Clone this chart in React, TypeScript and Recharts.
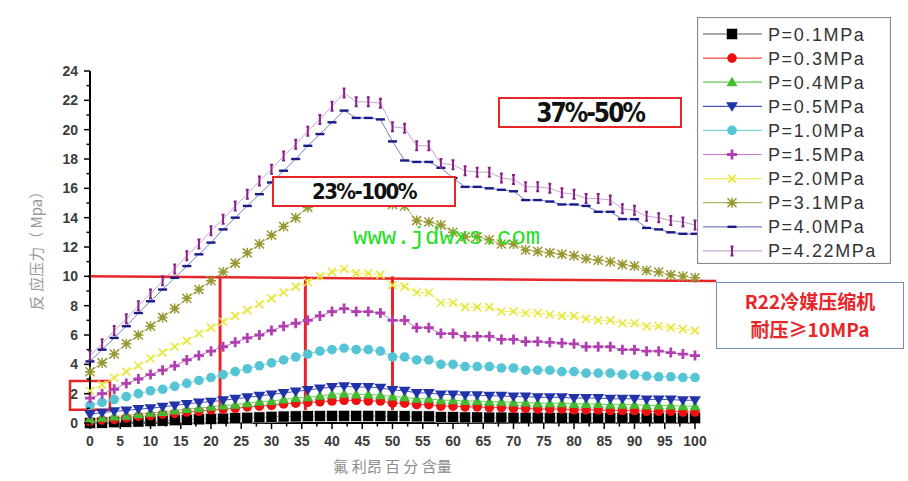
import React from "react";
import { LineChart, Line, XAxis, YAxis, ReferenceLine, ReferenceArea, Legend, Label } from "recharts";

// freon content (%), one sample every 2%
const X_VALUES = [
  0, 2, 4, 6, 8, 10, 12, 14, 16, 18, 20, 22, 24, 26, 28, 30, 32, 34, 36, 38, 40, 42,
  44, 46, 48, 50, 52, 54, 56, 58, 60, 62, 64, 66, 68, 70, 72, 74, 76, 78, 80, 82, 84, 86,
  88, 90, 92, 94, 96, 98, 100,
];

const P_01 = [
  0.0, 0.02, 0.05, 0.08, 0.1, 0.13, 0.16, 0.19, 0.22, 0.25, 0.28, 0.3, 0.33, 0.36, 0.38, 0.42, 0.44, 0.45, 0.46, 0.47, 0.48, 0.48,
  0.48, 0.48, 0.47, 0.46, 0.46, 0.45, 0.45, 0.4, 0.4, 0.38, 0.38, 0.37, 0.37, 0.36, 0.36, 0.36, 0.35, 0.35, 0.35, 0.34, 0.34, 0.34,
  0.34, 0.33, 0.33, 0.33, 0.33, 0.33, 0.33,
];
const P_03 = [
  0.1, 0.2, 0.25, 0.35, 0.45, 0.5, 0.6, 0.65, 0.75, 0.8, 0.9, 0.95, 1.0, 1.1, 1.15, 1.2, 1.3, 1.35, 1.4, 1.45, 1.5, 1.55,
  1.55, 1.5, 1.5, 1.35, 1.35, 1.25, 1.25, 1.15, 1.15, 1.1, 1.1, 1.05, 1.05, 1.0, 1.0, 0.95, 0.95, 0.95, 0.9, 0.9, 0.9, 0.85,
  0.85, 0.85, 0.8, 0.8, 0.8, 0.75, 0.75,
];
const P_04 = [
  0.25, 0.35, 0.45, 0.5, 0.6, 0.7, 0.75, 0.85, 0.95, 1.0, 1.1, 1.2, 1.25, 1.35, 1.45, 1.5, 1.6, 1.7, 1.75, 1.85, 1.95, 2.0,
  1.95, 1.95, 1.9, 1.8, 1.75, 1.65, 1.65, 1.55, 1.55, 1.5, 1.5, 1.45, 1.45, 1.4, 1.4, 1.35, 1.35, 1.35, 1.3, 1.3, 1.3, 1.25,
  1.25, 1.25, 1.2, 1.2, 1.2, 1.15, 1.15,
];
const P_05 = [
  0.6, 0.7, 0.8, 0.85, 0.95, 1.0, 1.1, 1.2, 1.3, 1.4, 1.45, 1.55, 1.65, 1.75, 1.85, 1.95, 2.05, 2.15, 2.25, 2.35, 2.45, 2.5,
  2.45, 2.45, 2.4, 2.25, 2.2, 2.05, 2.05, 1.95, 1.95, 1.9, 1.9, 1.85, 1.85, 1.8, 1.8, 1.75, 1.75, 1.75, 1.7, 1.7, 1.7, 1.65,
  1.65, 1.65, 1.6, 1.6, 1.6, 1.55, 1.55,
];
const P_10 = [
  1.2, 1.4, 1.6, 1.8, 2.0, 2.2, 2.3, 2.5, 2.7, 2.9, 3.1, 3.3, 3.5, 3.7, 3.9, 4.1, 4.3, 4.5, 4.7, 4.9, 5.0, 5.1,
  5.0, 5.0, 4.9, 4.5, 4.5, 4.3, 4.3, 4.0, 4.0, 3.85, 3.85, 3.85, 3.75, 3.75, 3.6, 3.6, 3.6, 3.5, 3.5, 3.4, 3.4, 3.4,
  3.3, 3.3, 3.2, 3.15, 3.15, 3.1, 3.1,
];
const P_15 = [
  1.7, 2.0, 2.3, 2.7, 3.0, 3.3, 3.6, 3.9, 4.3, 4.6, 4.9, 5.2, 5.5, 5.8, 6.0, 6.3, 6.6, 6.8, 7.0, 7.3, 7.6, 7.8,
  7.6, 7.6, 7.5, 7.0, 7.0, 6.5, 6.5, 6.1, 6.1, 5.9, 5.9, 5.9, 5.7, 5.7, 5.55, 5.55, 5.5, 5.45, 5.4, 5.2, 5.2, 5.2,
  5.0, 5.0, 4.9, 4.9, 4.8, 4.7, 4.6,
];
const P_20 = [
  2.2, 2.6, 3.1, 3.5, 3.9, 4.4, 4.8, 5.2, 5.6, 6.1, 6.5, 6.9, 7.3, 7.7, 8.1, 8.5, 8.9, 9.3, 9.6, 10.0, 10.3, 10.5,
  10.2, 10.2, 10.1, 9.4, 9.3, 8.9, 8.9, 8.2, 8.2, 7.9, 7.9, 7.9, 7.6, 7.6, 7.5, 7.5, 7.4, 7.3, 7.3, 7.1, 7.0, 7.0,
  6.8, 6.8, 6.6, 6.6, 6.5, 6.4, 6.3,
];
const P_31 = [
  3.5, 4.1, 4.7, 5.4, 6.0, 6.6, 7.2, 7.8, 8.5, 9.1, 9.7, 10.3, 10.9, 11.6, 12.2, 12.8, 13.4, 14.0, 14.7, 15.3, 15.9, 16.3,
  16.2, 16.1, 15.9, 14.9, 14.8, 13.8, 13.7, 13.5, 13.0, 12.7, 12.7, 12.5, 12.2, 12.2, 11.8, 11.7, 11.6, 11.5, 11.4, 11.2, 11.1, 11.0,
  10.8, 10.7, 10.4, 10.3, 10.1, 10.0, 9.9,
];
const P_40 = [
  4.2, 5.0, 5.8, 6.6, 7.5, 8.3, 9.1, 9.9, 10.7, 11.5, 12.3, 13.2, 14.0, 14.8, 15.6, 16.4, 17.2, 18.0, 18.9, 19.7, 20.5, 21.3,
  20.8, 20.8, 20.7, 19.2, 17.9, 17.8, 17.8, 17.4, 16.7, 16.1, 16.1, 16.0, 15.9, 15.8, 15.2, 15.2, 15.1, 14.9, 14.9, 14.8, 14.4, 14.4,
  13.9, 13.9, 13.3, 13.2, 13.0, 12.9, 12.9,
];
const P_422 = [
  4.6, 5.4, 6.3, 7.1, 8.0, 8.8, 9.7, 10.5, 11.4, 12.2, 13.1, 13.9, 14.8, 15.6, 16.5, 17.3, 18.2, 19.0, 19.9, 20.7, 21.6, 22.5,
  21.9, 21.9, 21.8, 20.2, 20.1, 18.9, 18.9, 17.7, 17.6, 17.2, 17.1, 17.1, 16.7, 16.6, 16.1, 16.1, 16.0, 15.7, 15.6, 15.3, 15.3, 15.2,
  14.6, 14.5, 14.1, 14.0, 13.8, 13.7, 13.5,
];

const Y_TICKS = Array.from({ length: 25 }, (_, i) => i);
const X_TICKS = Array.from({ length: 41 }, (_, i) => i * 2.5);

type Shape = "square" | "circle" | "triUp" | "triDown" | "plus" | "cross" | "star" | "dash" | "bar";

const SERIES: { key: string; name: string; values: number[]; line: string; mark: string; shape: Shape }[] = [
  { key: "p01", name: "P=0.1MPa", values: P_01, line: "#555555", mark: "#000000", shape: "square" },
  { key: "p03", name: "P=0.3MPa", values: P_03, line: "#ff4444", mark: "#ee1111", shape: "circle" },
  { key: "p04", name: "P=0.4MPa", values: P_04, line: "#66cc55", mark: "#44bb33", shape: "triUp" },
  { key: "p05", name: "P=0.5MPa", values: P_05, line: "#4455bb", mark: "#2233aa", shape: "triDown" },
  { key: "p10", name: "P=1.0MPa", values: P_10, line: "#7fd3de", mark: "#55c5d5", shape: "circle" },
  { key: "p15", name: "P=1.5MPa", values: P_15, line: "#cc77cc", mark: "#b040b0", shape: "plus" },
  { key: "p20", name: "P=2.0MPa", values: P_20, line: "#eeee66", mark: "#e6e63c", shape: "cross" },
  { key: "p31", name: "P=3.1MPa", values: P_31, line: "#b4b46a", mark: "#999933", shape: "star" },
  { key: "p40", name: "P=4.0MPa", values: P_40, line: "#7482c4", mark: "#1a1a88", shape: "dash" },
  { key: "p422", name: "P=4.22MPa", values: P_422, line: "#c9a2d3", mark: "#882288", shape: "bar" },
];

const rows = X_VALUES.map((x, i) => {
  const row: Record<string, number> = { x };
  SERIES.forEach((s) => (row[s.key] = s.values[i]));
  return row;
});

const RED = "#e8262a";
const TICK_FONT = "'Liberation Sans', Arial, sans-serif";

function Marker({ cx, cy, shape, color }: { cx?: number; cy?: number; shape: Shape; color: string }) {
  if (cx == null || cy == null) return null;
  switch (shape) {
    case "square":
      return <rect x={cx - 5.5} y={cy - 5.5} width={11} height={11} fill={color} stroke="#ffffff" strokeWidth={0.5} />;
    case "circle":
      return <circle cx={cx} cy={cy} r={4.8} fill={color} />;
    case "triUp":
      return <polygon points={`${cx},${cy - 5.5} ${cx + 5.5},${cy + 4} ${cx - 5.5},${cy + 4}`} fill={color} />;
    case "triDown":
      return <polygon points={`${cx - 6},${cy - 4} ${cx + 6},${cy - 4} ${cx},${cy + 5.5}`} fill={color} />;
    case "plus":
      return (
        <path d={`M${cx - 5},${cy}H${cx + 5}M${cx},${cy - 5}V${cy + 5}`} stroke={color} strokeWidth={2.8} />
      );
    case "cross":
      return (
        <path
          d={`M${cx - 4},${cy - 4}L${cx + 4},${cy + 4}M${cx + 4},${cy - 4}L${cx - 4},${cy + 4}`}
          stroke={color}
          strokeWidth={1.6}
        />
      );
    case "star":
      return (
        <g>
          <path
            d={`M${cx - 4.5},${cy - 4.5}L${cx + 4.5},${cy + 4.5}M${cx + 4.5},${cy - 4.5}L${cx - 4.5},${cy + 4.5}M${cx - 5},${cy}H${cx + 5}M${cx},${cy - 5}V${cy + 5}`}
            stroke={color}
            strokeWidth={1.5}
          />
          <circle cx={cx} cy={cy} r={2.5} fill={color} />
        </g>
      );
    case "dash":
      return <rect x={cx - 4.5} y={cy - 1.2} width={9} height={2.4} fill={color} />;
    case "bar":
      return (
        <path
          d={`M${cx},${cy - 4.5}V${cy + 4.5}M${cx - 1.5},${cy - 4.5}H${cx + 1.5}M${cx - 1.5},${cy + 4.5}H${cx + 1.5}`}
          stroke={color}
          strokeWidth={2}
        />
      );
  }
  return null;
}

function YTick(props: any) {
  const { x, y, payload } = props;
  const v = payload.value as number;
  const major = v % 2 === 0;
  return (
    <g>
      <line x1={x - (major ? 6 : 3.5)} x2={x} y1={y} y2={y} stroke="#000" strokeWidth={1.5} />
      {major && (
        <text
          x={x - 12}
          y={y + 5}
          textAnchor="end"
          fontFamily={TICK_FONT}
          fontSize={14}
          fontWeight="bold"
          fill="#3c3c3c"
        >
          {v}
        </text>
      )}
    </g>
  );
}

function XTick(props: any) {
  const { x, y, payload } = props;
  const v = payload.value as number;
  const major = v % 5 === 0;
  return (
    <g>
      <line x1={x} x2={x} y1={y} y2={y + (major ? 6 : 3.5)} stroke="#000" strokeWidth={1.5} />
      {major && (
        <text
          x={x}
          y={y + 23}
          textAnchor="middle"
          fontFamily={TICK_FONT}
          fontSize={14}
          fontWeight="bold"
          fill="#3c3c3c"
        >
          {v}
        </text>
      )}
    </g>
  );
}

function LegendBox() {
  return (
    <svg width={194} height={247} style={{ display: "block" }}>
      <rect x={0.5} y={0.5} width={193} height={246} fill="#ffffff" stroke="#8a8a8a" strokeWidth={1.2} />
      {SERIES.map((s, i) => {
        const cy = 17 + i * 24.1;
        return (
          <g key={s.key}>
            <line x1={6} x2={65} y1={cy} y2={cy} stroke={s.line} strokeWidth={1.2} />
            <Marker cx={35} cy={cy} shape={s.shape} color={s.mark} />
            <text
              x={71}
              y={cy + 6.5}
              fontFamily={TICK_FONT}
              fontSize={18}
              letterSpacing={1.6}
              fill="#333333"
            >
              {s.name}
            </text>
          </g>
        );
      })}
    </svg>
  );
}

const boxStyle: React.CSSProperties = {
  position: "absolute",
  boxSizing: "border-box",
  border: `2.5px solid ${RED}`,
  background: "#ffffff",
  display: "flex",
  alignItems: "center",
  justifyContent: "center",
  fontFamily: "'DejaVu Sans Condensed', 'DejaVu Sans', sans-serif",
  fontWeight: "bold",
  color: "#111111",
};

export default function App() {
  return (
    <div style={{ position: "relative", width: 908, height: 481, background: "#ffffff", overflow: "hidden" }}>
      <style>{"body{margin:0}"}</style>
      <LineChart width={908} height={481} data={rows} margin={{ top: 71, right: 213, bottom: 0, left: 0 }}>
        <XAxis
          dataKey="x"
          type="number"
          domain={[0, 100]}
          ticks={X_TICKS}
          interval={0}
          height={58}
          tickSize={0}
          tickMargin={0}
          tickLine={false}
          axisLine={{ stroke: "#000", strokeWidth: 1.8 }}
          tick={<XTick />}
        >
          <Label
            content={({ viewBox }: any) => (
              <text
                x={viewBox.x + viewBox.width / 2}
                y={viewBox.y + 49}
                textAnchor="middle"
                fontFamily="'Noto Sans CJK SC', sans-serif"
                fontSize={15}
                fill="#8c8c8c"
              >
                氟 利昂 百 分 含量
              </text>
            )}
          />
        </XAxis>
        <YAxis
          type="number"
          domain={[0, 24]}
          ticks={Y_TICKS}
          interval={0}
          width={90}
          tickSize={0}
          tickMargin={0}
          tickLine={false}
          axisLine={{ stroke: "#000", strokeWidth: 2 }}
          tick={<YTick />}
        >
          <Label
            content={({ viewBox }: any) => {
              const cx = viewBox.x + 35;
              const cy = viewBox.y + viewBox.height / 2;
              return (
                <text
                  x={cx}
                  y={cy}
                  transform={`rotate(-90 ${cx} ${cy})`}
                  textAnchor="middle"
                  dominantBaseline="central"
                  fontFamily="'Noto Sans CJK SC', sans-serif"
                  fontSize={15}
                  fill="#9a9a9a"
                >
                  反 应压力（ Mpa）
                </text>
              );
            }}
          />
        </YAxis>
        <Legend
          layout="vertical"
          align="center"
          verticalAlign="middle"
          wrapperStyle={{ position: "absolute", left: 697, top: 17, width: 194, height: 247 }}
          content={() => <LegendBox />}
        />
        {SERIES.map((s) => (
          <Line
            key={s.key}
            dataKey={s.key}
            name={s.name}
            type="linear"
            stroke={s.line}
            strokeWidth={1}
            isAnimationActive={false}
            activeDot={false}
            dot={(p: any) => <Marker key={`${s.key}-${p.index}`} cx={p.cx} cy={p.cy} shape={s.shape} color={s.mark} />}
          />
        ))}
        <ReferenceLine
          segment={[
            { x: -0.3, y: 10 },
            { x: 103.5, y: 9.68 },
          ]}
          stroke={RED}
          strokeWidth={2.5}
          ifOverflow="visible"
        />
        {[21.5, 35.6, 50].map((x) => (
          <ReferenceLine
            key={x}
            segment={[
              { x, y: 10 },
              { x, y: 0.85 },
            ]}
            stroke={RED}
            strokeWidth={3}
            ifOverflow="visible"
          />
        ))}
        <ReferenceArea
          x1={-3.3}
          x2={3.3}
          y1={0.9}
          y2={2.87}
          fill="none"
          stroke={RED}
          strokeWidth={2.5}
          ifOverflow="visible"
        />
      </LineChart>

      <div
        style={{
          position: "absolute",
          left: 353,
          top: 224,
          fontFamily: "'Liberation Mono', monospace",
          fontSize: 24,
          lineHeight: "28px",
          color: "#1ee01e",
          whiteSpace: "nowrap",
        }}
      >
        www.jdwxs.com
      </div>
      <div style={{ ...boxStyle, left: 272, top: 176, width: 184, height: 31, fontSize: 22, letterSpacing: -1.6 }}>
        23%-100%
      </div>
      <div style={{ ...boxStyle, left: 498, top: 97, width: 184, height: 31, fontSize: 26, letterSpacing: -2 }}>
        37%-50%
      </div>
      <div
        style={{
          position: "absolute",
          boxSizing: "border-box",
          left: 716,
          top: 282,
          width: 188,
          height: 67,
          border: "1.5px solid #6f8fb8",
          background: "#ffffff",
          color: RED,
          fontFamily: "'Noto Sans CJK SC', sans-serif",
          fontWeight: "bold",
          fontSize: 19,
          lineHeight: "28px",
          textAlign: "center",
          paddingTop: 4,
        }}
      >
        <div>R22冷媒压缩机</div>
        <div>耐压≥10MPa</div>
      </div>
    </div>
  );
}
